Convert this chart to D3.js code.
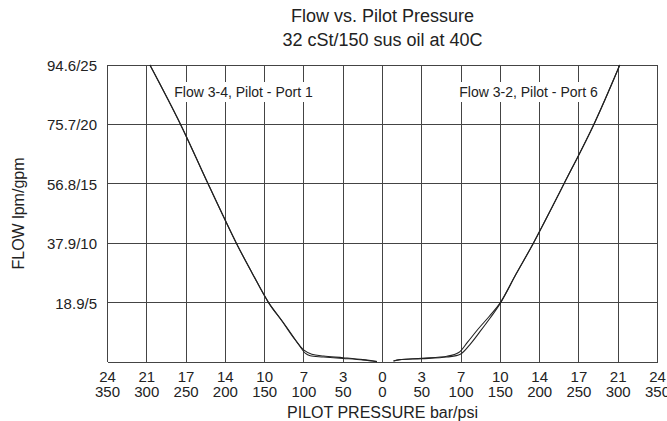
<!DOCTYPE html>
<html>
<head>
<meta charset="utf-8">
<script src="https://cdn.jsdelivr.net/npm/d3@7"></script>
<style>
  body { margin: 0; background: #fff; }
  svg { display: block; font-family: "Liberation Sans", Arial, sans-serif; }
</style>
</head>
<body>
<svg id="chart"></svg>
<script>
// tick positions (psi, mirrored about zero) and their labels
const psiTicks = [-350, -300, -250, -200, -150, -100, -50, 0, 50, 100, 150, 200, 250, 300, 350];
const barLabels = ["24", "21", "17", "14", "10", "7", "3", "0", "3", "7", "10", "14", "17", "21", "24"];
const psiLabels = ["350", "300", "250", "200", "150", "100", "50", "0", "50", "100", "150", "200", "250", "300", "350"];
const gpmTicks = [0, 5, 10, 15, 20, 25];
const flowLabels = ["", "18.9/5", "37.9/10", "56.8/15", "75.7/20", "94.6/25"];

// Flow 3-4, Pilot - Port 1 (left side, two traces)
const leftAPsi = [-7, -25, -50, -75, -90, -100, -111, -128, -145, -166, -186, -222, -257, -296];
const leftAGpm = [0.03, 0.2, 0.36, 0.5, 0.66, 1.0, 1.85, 3.45, 5, 7.5, 10, 15, 20, 25];
const leftBPsi = [-7, -25, -50, -75, -92, -98, -108, -126, -145, -166, -186, -222, -257, -296];
const leftBGpm = [0.03, 0.17, 0.3, 0.42, 0.52, 0.72, 1.6, 3.3, 5, 7.5, 10, 15, 20, 25];

// Flow 3-2, Pilot - Port 6 (right side, two traces)
const rightAPsi = [14, 22, 50, 82, 99, 111, 124, 137, 150, 170, 192, 231, 269, 302];
const rightAGpm = [0.08, 0.19, 0.28, 0.42, 0.65, 1.45, 2.55, 3.7, 4.95, 7.4, 10, 15, 20, 25];
const rightBPsi = [14, 22, 50, 82, 97, 108, 122, 136, 150, 170, 192, 231, 269, 302];
const rightBGpm = [0.08, 0.2, 0.32, 0.48, 0.8, 1.65, 2.8, 3.85, 5, 7.4, 10, 15, 20, 25];

const width = 667, height = 421;
const margin = {top: 65, right: 9.5, bottom: 59, left: 107.5};

const svg = d3.select("#chart")
    .attr("width", width)
    .attr("height", height);

const x = d3.scaleLinear()
    .domain([-350, 350])
    .range([margin.left, width - margin.right]);

const y = d3.scaleLinear()
    .domain([0, 25])
    .range([height - margin.bottom, margin.top]);

// grid
const grid = svg.append("g")
    .attr("stroke", "#444")
    .attr("stroke-width", 1)
    .attr("shape-rendering", "crispEdges");

grid.selectAll(".vgrid")
    .data(psiTicks)
    .enter()
    .append("line")
    .attr("x1", d => x(d))
    .attr("x2", d => x(d))
    .attr("y1", y(0))
    .attr("y2", y(25));

grid.selectAll(".hgrid")
    .data(gpmTicks)
    .enter()
    .append("line")
    .attr("x1", x(-350))
    .attr("x2", x(350))
    .attr("y1", d => y(d))
    .attr("y2", d => y(d));

// curves
const line = d3.line()
    .x(d => x(d[0]))
    .y(d => y(d[1]))
    .curve(d3.curveCatmullRom.alpha(0.5));

const traces = [
    d3.zip(leftAPsi, leftAGpm),
    d3.zip(leftBPsi, leftBGpm),
    d3.zip(rightAPsi, rightAGpm),
    d3.zip(rightBPsi, rightBGpm)
];

svg.append("g")
    .selectAll("path")
    .data(traces)
    .enter()
    .append("path")
    .attr("d", line)
    .attr("fill", "none")
    .attr("stroke", "#222")
    .attr("stroke-width", 1.1);

// series labels with white background
const labels = [
    {text: "Flow 3-4, Pilot - Port 1", psi: -265, anchor: "start"},
    {text: "Flow 3-2, Pilot - Port 6", psi: 274, anchor: "end"}
];

labels.forEach(l => {
    const g = svg.append("g");
    const t = g.append("text")
        .attr("x", x(l.psi))
        .attr("y", 97)
        .attr("text-anchor", l.anchor)
        .style("font-size", "14px")
        .attr("fill", "#222")
        .text(l.text);
    const bb = t.node().getBBox();
    g.insert("rect", "text")
        .attr("x", bb.x - 3)
        .attr("y", bb.y - 2)
        .attr("width", bb.width + 6)
        .attr("height", bb.height + 4)
        .attr("fill", "#fff");
});

// x tick labels (two rows: bar / psi)
const xt = svg.append("g")
    .style("font-size", "15px")
    .attr("fill", "#222")
    .attr("text-anchor", "middle");

xt.selectAll(".bar")
    .data(psiTicks)
    .enter()
    .append("text")
    .attr("x", d => x(d))
    .attr("y", 382)
    .text((d, i) => barLabels[i]);

xt.selectAll(".psi")
    .data(psiTicks)
    .enter()
    .append("text")
    .attr("x", d => x(d))
    .attr("y", 397)
    .text((d, i) => psiLabels[i]);

// y tick labels
svg.append("g")
    .style("font-size", "15px")
    .attr("fill", "#222")
    .attr("text-anchor", "end")
    .selectAll("text")
    .data(gpmTicks)
    .enter()
    .append("text")
    .attr("x", 97)
    .attr("y", d => y(d) + 6)
    .text((d, i) => flowLabels[i]);

// titles
svg.append("text")
    .attr("x", x(0))
    .attr("y", 22)
    .attr("text-anchor", "middle")
    .style("font-size", "18px")
    .attr("fill", "#222")
    .text("Flow vs. Pilot Pressure");

svg.append("text")
    .attr("x", x(0))
    .attr("y", 46)
    .attr("text-anchor", "middle")
    .style("font-size", "18px")
    .attr("fill", "#222")
    .text("32 cSt/150 sus oil at 40C");

svg.append("text")
    .attr("x", x(0))
    .attr("y", 418)
    .attr("text-anchor", "middle")
    .style("font-size", "16px")
    .attr("fill", "#222")
    .text("PILOT PRESSURE bar/psi");

svg.append("text")
    .attr("transform", `translate(24, ${(y(0) + y(25)) / 2}) rotate(-90)`)
    .attr("text-anchor", "middle")
    .style("font-size", "16px")
    .attr("fill", "#222")
    .text("FLOW lpm/gpm");
</script>
</body>
</html>
